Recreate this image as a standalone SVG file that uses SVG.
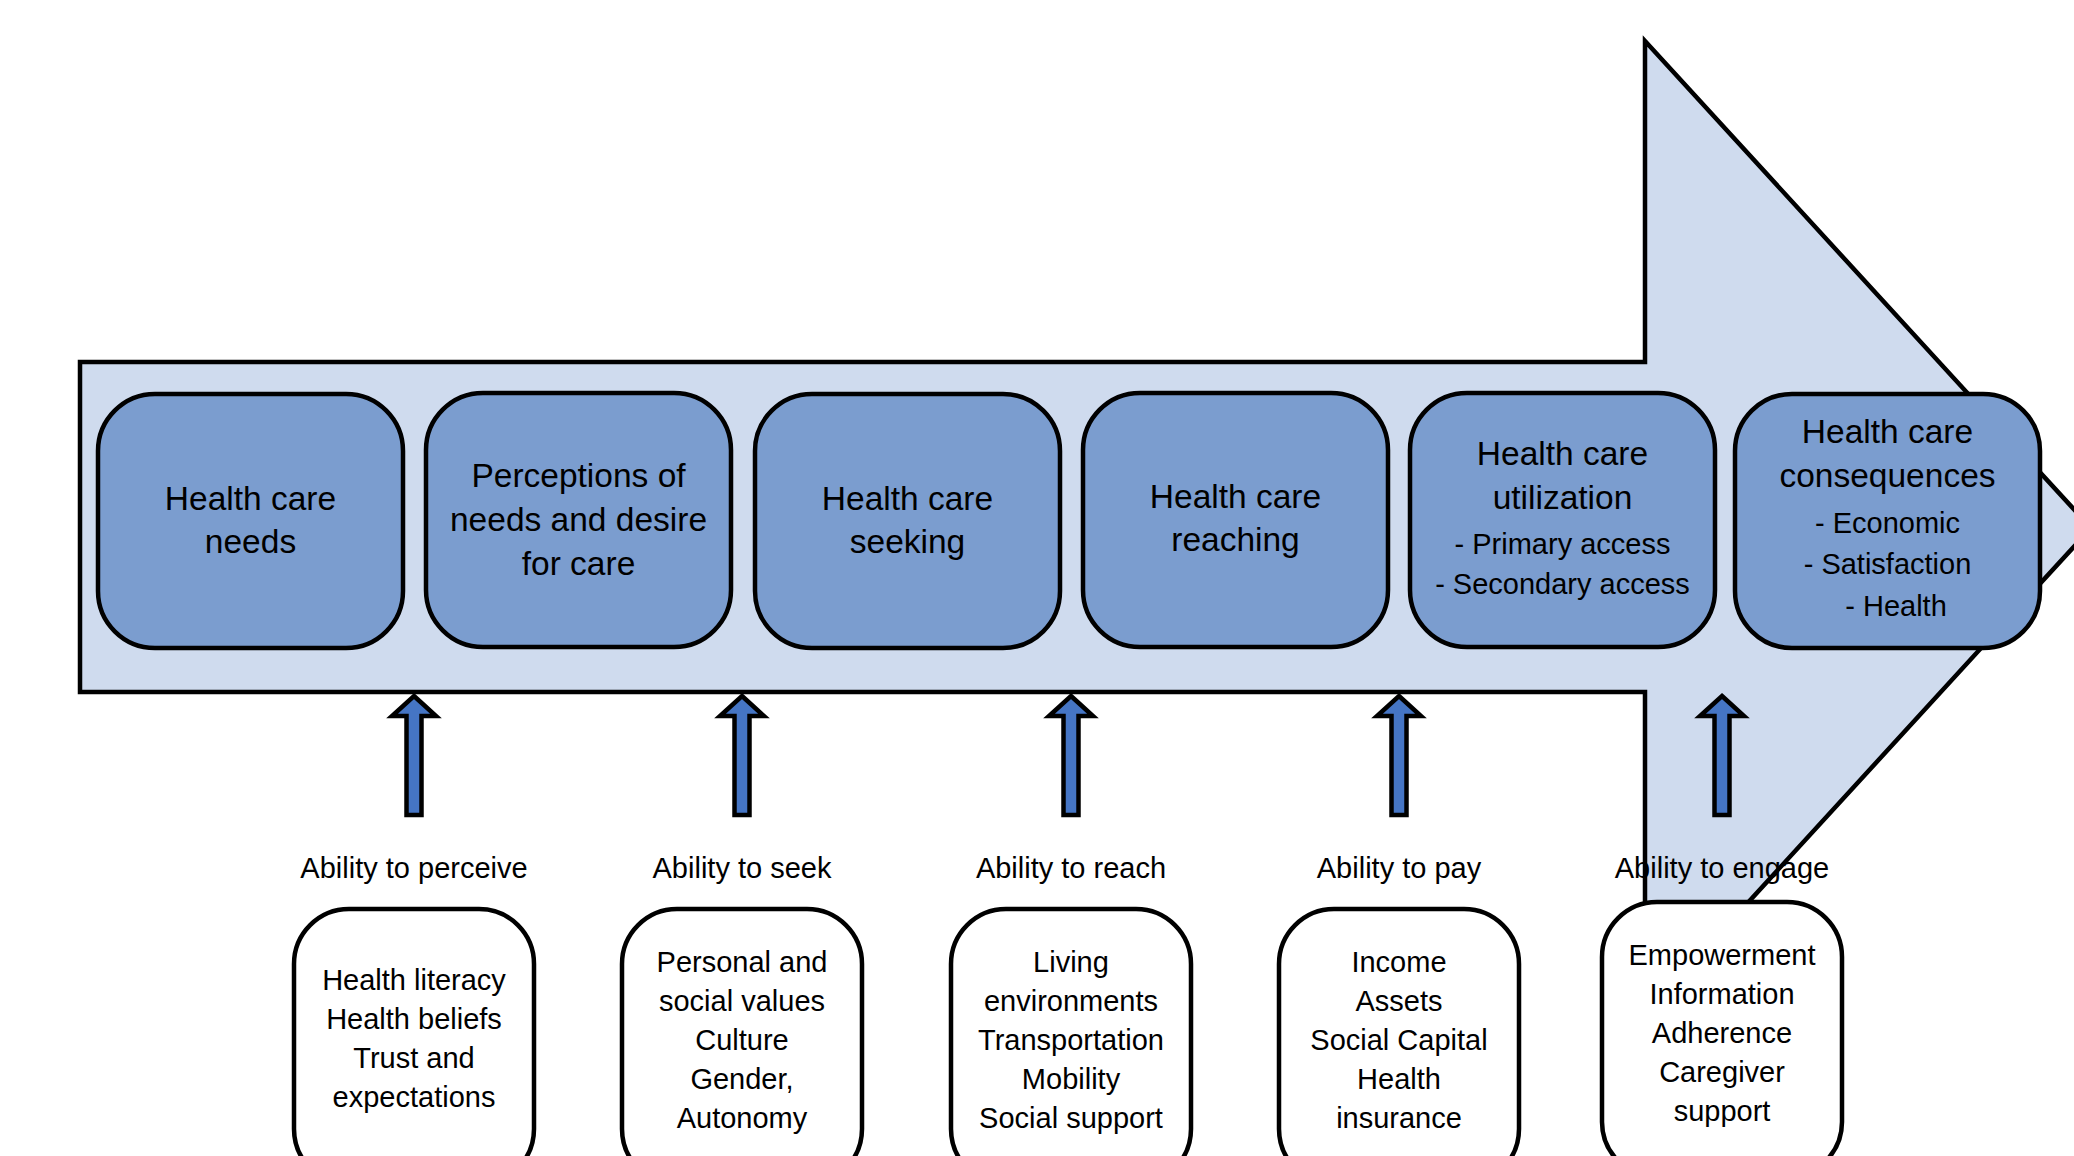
<svg xmlns="http://www.w3.org/2000/svg" width="2074" height="1156" viewBox="0 0 2074 1156">
  <style>
    .flow { fill: #cfdbee; stroke: #000; stroke-width: 4.5; stroke-linejoin: miter; stroke-miterlimit: 10; }
    .stage { fill: #7b9dcf; stroke: #000; stroke-width: 4.5; }
    .ability { fill: #fff; stroke: #000; stroke-width: 4.5; }
    .up { fill: #4575c4; stroke: #000; stroke-width: 4.5; stroke-linejoin: miter; }
    text { font-family: "Liberation Sans", Arial, sans-serif; fill: #000; text-anchor: middle; }
    .big { font-size: 33.5px; }
    .small { font-size: 29px; }
  </style>
  <defs>
    <!-- upward block arrow, centred on x=0 -->
    <path id="uparrow" d="M0,696 L22,716 L7.5,716 L7.5,815 L-7.5,815 L-7.5,716 L-22,716 Z"/>
  </defs>

  <!-- large background flow arrow -->
  <g id="flow-arrow">
    <path class="flow" d="M80,362 L1645,362 L1645,41 L2091,528 L1645,1015 L1645,692 L80,692 Z"/>
  </g>

  <!-- stages along the flow -->
  <g id="stage-needs">
    <rect class="stage" x="98" y="394" width="305" height="254" rx="57" ry="57"/>
    <text class="big" x="250.5" y="510">Health care</text>
    <text class="big" x="250.5" y="553">needs</text>
  </g>
  <g id="stage-perceptions">
    <rect class="stage" x="426" y="393" width="305" height="254" rx="57" ry="57"/>
    <text class="big" x="578.5" y="487">Perceptions of</text>
    <text class="big" x="578.5" y="531">needs and desire</text>
    <text class="big" x="578.5" y="575">for care</text>
  </g>
  <g id="stage-seeking">
    <rect class="stage" x="755" y="394" width="305" height="254" rx="57" ry="57"/>
    <text class="big" x="907.5" y="510">Health care</text>
    <text class="big" x="907.5" y="553">seeking</text>
  </g>
  <g id="stage-reaching">
    <rect class="stage" x="1083" y="393" width="305" height="254" rx="57" ry="57"/>
    <text class="big" x="1235.5" y="508">Health care</text>
    <text class="big" x="1235.5" y="551">reaching</text>
  </g>
  <g id="stage-utilization">
    <rect class="stage" x="1410" y="393" width="305" height="254" rx="57" ry="57"/>
    <text class="big" x="1562.5" y="465">Health care</text>
    <text class="big" x="1562.5" y="509">utilization</text>
    <text class="small" x="1562.5" y="554">- Primary access</text>
    <text class="small" x="1562.5" y="594">- Secondary access</text>
  </g>
  <g id="stage-consequences">
    <rect class="stage" x="1735" y="394" width="305" height="254" rx="57" ry="57"/>
    <text class="big" x="1887.5" y="443">Health care</text>
    <text class="big" x="1887.5" y="487">consequences</text>
    <text class="small" x="1887.5" y="533">- Economic</text>
    <text class="small" x="1887.5" y="574">- Satisfaction</text>
    <text class="small" x="1896" y="616">- Health</text>
  </g>

  <!-- upward arrows feeding each ability into the flow -->
  <g id="connectors">
    <use href="#uparrow" class="up" x="414"/>
    <use href="#uparrow" class="up" x="742"/>
    <use href="#uparrow" class="up" x="1071"/>
    <use href="#uparrow" class="up" x="1399"/>
    <use href="#uparrow" class="up" x="1722"/>
  </g>

  <!-- abilities with their determinants -->
  <g id="ability-perceive">
    <text class="small" x="414" y="878">Ability to perceive</text>
    <rect class="ability" x="294" y="909" width="240" height="275" rx="55" ry="55"/>
    <text class="small" x="414" y="990">Health literacy</text>
    <text class="small" x="414" y="1029">Health beliefs</text>
    <text class="small" x="414" y="1068">Trust and</text>
    <text class="small" x="414" y="1107">expectations</text>
  </g>
  <g id="ability-seek">
    <text class="small" x="742" y="878">Ability to seek</text>
    <rect class="ability" x="622" y="909" width="240" height="275" rx="55" ry="55"/>
    <text class="small" x="742" y="972">Personal and</text>
    <text class="small" x="742" y="1011">social values</text>
    <text class="small" x="742" y="1050">Culture</text>
    <text class="small" x="742" y="1089">Gender,</text>
    <text class="small" x="742" y="1128">Autonomy</text>
  </g>
  <g id="ability-reach">
    <text class="small" x="1071" y="878">Ability to reach</text>
    <rect class="ability" x="951" y="909" width="240" height="275" rx="55" ry="55"/>
    <text class="small" x="1071" y="972">Living</text>
    <text class="small" x="1071" y="1011">environments</text>
    <text class="small" x="1071" y="1050">Transportation</text>
    <text class="small" x="1071" y="1089">Mobility</text>
    <text class="small" x="1071" y="1128">Social support</text>
  </g>
  <g id="ability-pay">
    <text class="small" x="1399" y="878">Ability to pay</text>
    <rect class="ability" x="1279" y="909" width="240" height="275" rx="55" ry="55"/>
    <text class="small" x="1399" y="972">Income</text>
    <text class="small" x="1399" y="1011">Assets</text>
    <text class="small" x="1399" y="1050">Social Capital</text>
    <text class="small" x="1399" y="1089">Health</text>
    <text class="small" x="1399" y="1128">insurance</text>
  </g>
  <g id="ability-engage">
    <text class="small" x="1722" y="878">Ability to engage</text>
    <rect class="ability" x="1602" y="902" width="240" height="275" rx="55" ry="55"/>
    <text class="small" x="1722" y="965">Empowerment</text>
    <text class="small" x="1722" y="1004">Information</text>
    <text class="small" x="1722" y="1043">Adherence</text>
    <text class="small" x="1722" y="1082">Caregiver</text>
    <text class="small" x="1722" y="1121">support</text>
  </g>
</svg>
